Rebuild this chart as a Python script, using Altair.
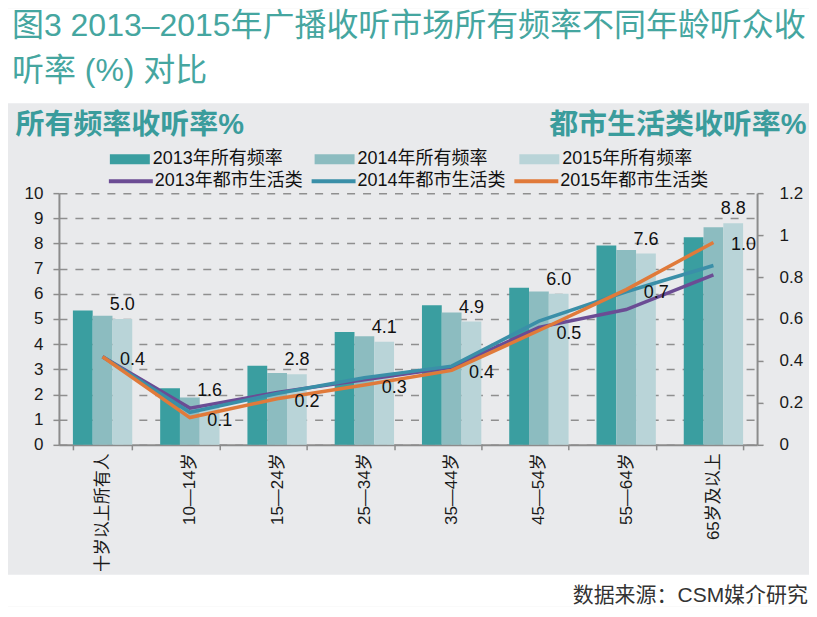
import altair as alt
import pandas as pd

# ---------------- data ----------------
categories = ["十岁以上所有人", "10—14岁", "15—24岁", "25—34岁", "35—44岁",
              "45—54岁", "55—64岁", "65岁及以上"]
years = ["2013", "2014", "2015"]
bar_series = ["2013年所有频率", "2014年所有频率", "2015年所有频率"]
line_series = ["2013年都市生活类", "2014年都市生活类", "2015年都市生活类"]

all_freq_2013 = [5.34, 2.25, 3.14, 4.48, 5.55, 6.24, 7.92, 8.25]
all_freq_2014 = [5.13, 1.88, 2.85, 4.31, 5.26, 6.09, 7.74, 8.64]
all_freq_2015 = [5.0, 1.6, 2.8, 4.1, 4.9, 6.0, 7.6, 8.8]

urban_2013 = [0.42, 0.175, 0.25, 0.31, 0.37, 0.56, 0.645, 0.81]
urban_2014 = [0.42, 0.155, 0.245, 0.32, 0.375, 0.59, 0.73, 0.855]
urban_2015 = [0.42, 0.13, 0.22, 0.285, 0.355, 0.545, 0.74, 0.965]

left_ticks = [0, 1, 2, 3, 4, 5, 6, 7, 8, 9, 10]
right_ticks = [0, 0.2, 0.4, 0.6, 0.8, 1.0, 1.2]

title_text = "图3 2013–2015年广播收听市场所有频率不同年龄听众收\n听率 (%) 对比"
left_heading = "所有频率收听率%"
right_heading = "都市生活类收听率%"
source_text = "数据来源：CSM媒介研究"

# ---------------- styles ----------------
FONT = "Liberation Sans, Noto Sans CJK SC, sans-serif"
bar_colors = ["#3a9ea0", "#8cbcc0", "#b9d4d8"]
line_colors = ["#6b4c94", "#3a8fa8", "#e07a3a"]
title_color = "#45a6a0"
heading_color = "#3a9c9c"
axis_color = "#8c8c8c"
text_color = "#1a1a1a"
panel_bg = "#e9eaec"

bar_rows = []
for yr, s, vals in zip(years, bar_series, [all_freq_2013, all_freq_2014, all_freq_2015]):
    for c, v in zip(categories, vals):
        bar_rows.append({"category": c, "year": yr, "series": s, "value": v})
bars_df = pd.DataFrame(bar_rows)

line_rows = []
for yr, s, vals in zip(years, line_series, [urban_2013, urban_2014, urban_2015]):
    for c, v in zip(categories, vals):
        line_rows.append({"category": c, "year": yr, "series": s, "value": v})
lines_df = pd.DataFrame(line_rows)

x_enc = alt.X(
    "category:N",
    scale=alt.Scale(domain=categories, paddingInner=0.32, paddingOuter=0.16),
    axis=alt.Axis(title=None, labelAngle=270, labelFontSize=17, labelColor=text_color,
                  labelPadding=3, tickBand="extent", tickSize=5, tickColor=axis_color,
                  tickWidth=1.5, domainColor=axis_color, domainWidth=2, grid=False),
)
xoff_enc = alt.XOffset("year:N", scale=alt.Scale(domain=years, paddingInner=0, paddingOuter=0))

y_left = alt.Y(
    "value:Q",
    scale=alt.Scale(domain=[0, 10], nice=False),
    axis=alt.Axis(orient="left", values=left_ticks, title=left_heading, titleAngle=0,
                  titleAlign="left", titleBaseline="middle", titleX=-44, titleY=-69,
                  titleFontSize=29, titleFontWeight="bold", titleColor=heading_color,
                  labelFontSize=17, labelColor=text_color, labelPadding=10, tickSize=6,
                  tickColor=axis_color, tickWidth=1.5, domainColor=axis_color, domainWidth=2,
                  grid=True, gridColor="#8f8f8f", gridDash=[8, 8], gridWidth=1.5),
)
y_right = alt.Y(
    "value:Q",
    scale=alt.Scale(domain=[0, 1.2], nice=False),
    axis=alt.Axis(orient="right", values=right_ticks, format="~g", title=right_heading,
                  titleAngle=0, titleAlign="right", titleBaseline="middle", titleX=49,
                  titleY=-69, titleFontSize=29, titleFontWeight="bold",
                  titleColor=heading_color, labelFontSize=17, labelColor=text_color,
                  labelPadding=16, tickSize=6, tickColor=axis_color, tickWidth=1.5,
                  domainColor=axis_color, domainWidth=2, grid=False),
)

bar_legend = alt.Legend(orient="none", legendX=51, legendY=-54, direction="horizontal",
                        title=None, symbolType="M-1,-0.25H1V0.25H-1Z", symbolSize=1600,
                        symbolStrokeWidth=0, labelFontSize=18, labelColor="#111111",
                        labelOffset=3, columnPadding=31, padding=0)
line_legend = alt.Legend(orient="none", legendX=48, legendY=-36, direction="horizontal",
                         title=None, symbolType="M-1,0H1", symbolSize=1936,
                         symbolStrokeWidth=4, labelFontSize=18, labelColor="#111111",
                         labelOffset=0, columnPadding=0, padding=0)

bars = alt.Chart(bars_df).mark_bar().encode(
    x=x_enc, xOffset=xoff_enc, y=y_left,
    fill=alt.Fill("series:N", scale=alt.Scale(domain=bar_series, range=bar_colors),
                  legend=bar_legend),
)
bar_text = alt.Chart(bars_df).transform_filter(alt.datum.year == "2015").mark_text(
    baseline="bottom", dy=-5, fontSize=18, color="#111111"
).encode(x=x_enc, xOffset=xoff_enc, y=y_left, text=alt.Text("value:Q", format=".1f"))

lines = alt.Chart(lines_df).mark_line(strokeWidth=3.5).encode(
    x=x_enc, y=y_right,
    stroke=alt.Stroke("series:N", scale=alt.Scale(domain=line_series, range=line_colors),
                      legend=line_legend),
)
line_text = alt.Chart(lines_df).transform_filter(alt.datum.year == "2015").mark_text(
    dx=30, dy=3, fontSize=18, color="#111111"
).encode(x=x_enc, y=y_right, text=alt.Text("value:Q", format=".1f"))

main = alt.layer(
    alt.layer(bars, bar_text),
    alt.layer(lines, line_text),
).resolve_scale(y="independent").properties(width=699, height=252)

spacer = alt.Chart(pd.DataFrame({"s": [0]})).mark_point(size=0, opacity=0).encode(
    x=alt.X("s:Q", axis=None), y=alt.Y("s:Q", axis=None)
).properties(width=7, height=1)

main_row = alt.hconcat(spacer, main, spacing=0).resolve_scale(
    fill="independent", stroke="independent"
).resolve_legend(fill="independent", stroke="independent")

title_cell = alt.Chart(pd.DataFrame({"t": [title_text]})).mark_text(
    align="left", baseline="middle", fontSize=32, color=title_color,
    lineBreak="\n", lineHeight=45
).encode(text="t:N", x=alt.value(4), y=alt.value(18)).properties(
    width=802, height=95, view=alt.ViewBackground(fill="white", strokeWidth=0)
)

footer = alt.Chart(pd.DataFrame({"t": [source_text]})).mark_text(
    align="right", baseline="middle", fontSize=21, color="#333333"
).encode(text="t:N", x=alt.value(801), y=alt.value(21)).properties(
    width=802, height=32, view=alt.ViewBackground(fill="white", strokeWidth=0)
)

inner = alt.vconcat(main_row, footer, spacing=3).resolve_scale(
    fill="independent", stroke="independent"
).resolve_legend(fill="independent", stroke="independent")

chart = alt.vconcat(title_cell, inner, spacing=7).resolve_scale(
    fill="independent", stroke="independent"
).resolve_legend(fill="independent", stroke="independent").configure(
    background=panel_bg, padding=0, font=FONT
).configure_view(strokeWidth=0)

chart.save("out.html", embed_options={"renderer": "svg", "actions": False})
